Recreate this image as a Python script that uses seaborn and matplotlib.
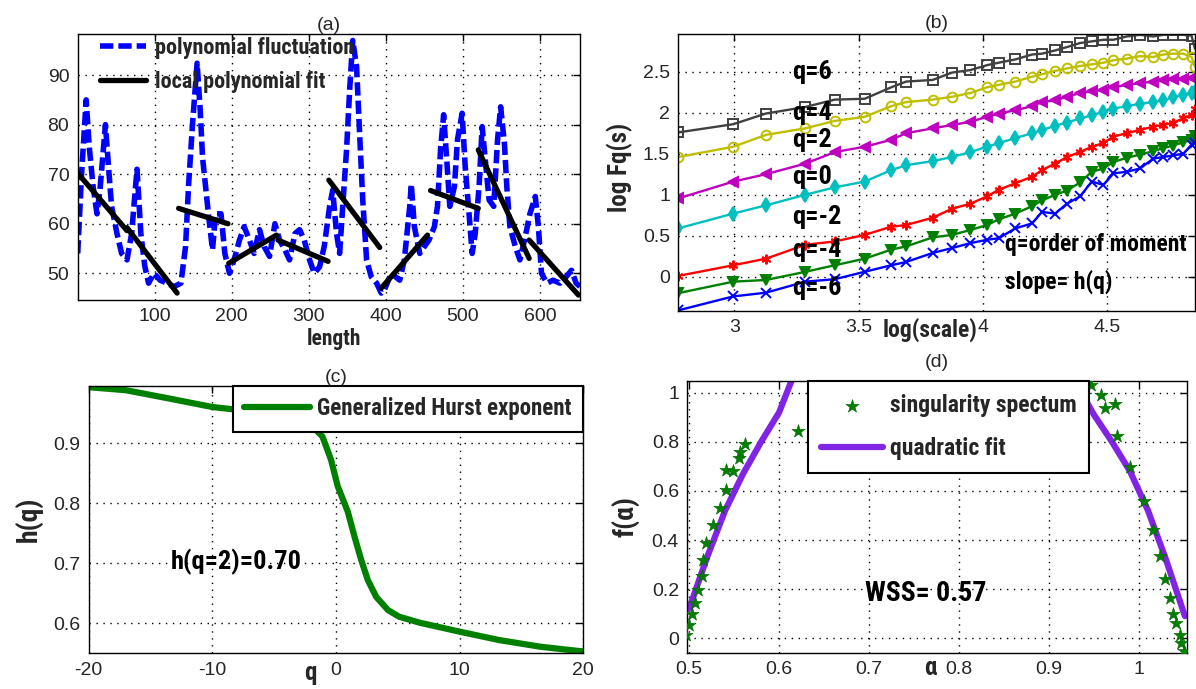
import numpy as np
import pandas as pd
import matplotlib
matplotlib.use("Agg")
import matplotlib.pyplot as plt
import seaborn as sns
from matplotlib import font_manager as fm
from matplotlib.font_manager import FontProperties

# ---------------- data ----------------
# (a) polynomial fluctuation
a_len = [0, 3, 5, 11, 15, 20, 25, 29, 36, 40, 44, 51, 57, 64, 70, 77, 82, 87, 92, 99,
         107, 116, 125, 134, 140, 144, 149, 155, 159, 162, 166, 170, 175, 179, 186, 191,
         197, 203, 210, 216, 223, 229, 236, 242, 249, 256, 262, 269, 275, 282, 288, 294,
         301, 307, 314, 320, 327, 331, 336, 340, 344, 349, 353, 357, 362, 366, 370, 375,
         381, 388, 394, 398, 407, 418, 424, 431, 433, 437, 444, 450, 456, 463, 467, 471,
         475, 479, 483, 489, 493, 499, 503, 508, 512, 516, 521, 525, 529, 534, 540, 545,
         549, 554, 557, 561, 568, 574, 580, 587, 594, 598, 602, 609, 617, 626, 634, 641,
         647, 652]
a_val = [54, 63.5, 70, 85, 75.5, 67.5, 62, 67, 80, 71.5, 63.5, 58, 54, 52.7, 58, 71, 58,
         51.5, 48, 50, 48.6, 48, 47.3, 48, 55.4, 68, 80, 92.4, 83, 73.5, 67.5, 61.5, 54.7,
         62, 62, 54, 50, 52.7, 56.7, 59.4, 56.7, 54, 58.8, 55.4, 53.4, 60, 56.7, 54.7, 52.7,
         58, 58.8, 56.7, 52.7, 50, 51.3, 55.4, 63.5, 66.8, 58, 54, 63.5, 75, 87, 97, 91.7,
         78, 64.8, 52.7, 49.3, 48, 46, 46.6, 50, 48.6, 52.7, 63.5, 68, 59.4, 54, 55.4, 56.7,
         59.4, 63.5, 75, 82, 73, 63.5, 67.5, 77, 82.3, 71.5, 62, 54, 58, 67.5, 79.6, 73,
         64.8, 63.5, 77, 83.6, 76, 67.5, 59.4, 55.4, 52.7, 56.7, 62, 65.5, 59.4, 50, 48,
         48.6, 48, 49.3, 50.6, 48, 47.3]
# (a) local polynomial fit segments
fit_x0 = [0, 64, 131, 196, 260, 326, 394, 458, 520, 586]
fit_y0 = [70.2, 59.2, 63.1, 52.0, 56.7, 68.8, 47.0, 66.7, 74.9, 56.7]
fit_x1 = [64, 129, 195, 258, 325, 392, 454, 520, 586, 650]
fit_y1 = [58.6, 46.0, 60.0, 57.7, 52.4, 55.2, 57.7, 63.1, 53.0, 45.6]

# (b) log Fq(s) vs log(scale)
b_logscale = [2.775, 2.996, 3.127, 3.286, 3.404, 3.524, 3.631, 3.691, 3.798, 3.876,
              3.949, 4.016, 4.063, 4.130, 4.197, 4.237, 4.290, 4.337, 4.390, 4.437,
              4.484, 4.524, 4.578, 4.631, 4.684, 4.725, 4.765, 4.805, 4.838, 4.852]
b_q6 = [1.76, 1.86, 1.99, 2.07, 2.16, 2.17, 2.31, 2.38, 2.40, 2.49, 2.52, 2.58, 2.61,
        2.65, 2.71, 2.72, 2.76, 2.80, 2.85, 2.87, 2.89, 2.89, 2.93, 2.95, 2.93, 2.95,
        2.95, 2.95, 2.94, 2.78]
b_q4 = [1.46, 1.585, 1.73, 1.81, 1.90, 1.95, 2.08, 2.13, 2.16, 2.195, 2.24, 2.31, 2.34,
        2.38, 2.44, 2.47, 2.51, 2.54, 2.57, 2.59, 2.61, 2.64, 2.66, 2.69, 2.68, 2.71,
        2.72, 2.72, 2.68, 2.56]
b_q2 = [0.955, 1.16, 1.25, 1.38, 1.52, 1.585, 1.67, 1.75, 1.81, 1.85, 1.89, 1.95, 1.99,
        2.03, 2.08, 2.13, 2.15, 2.195, 2.24, 2.26, 2.28, 2.31, 2.34, 2.36, 2.38, 2.40,
        2.41, 2.41, 2.42, 2.42]
b_q0 = [0.59, 0.77, 0.87, 1.00, 1.09, 1.16, 1.30, 1.36, 1.41, 1.46, 1.52, 1.585, 1.63,
        1.69, 1.75, 1.79, 1.84, 1.88, 1.93, 1.97, 2.01, 2.05, 2.08, 2.11, 2.13, 2.15,
        2.19, 2.215, 2.24, 2.25]
b_qm2 = [0.01, 0.14, 0.22, 0.39, 0.43, 0.51, 0.61, 0.63, 0.72, 0.83, 0.89, 0.98, 1.06,
         1.14, 1.22, 1.30, 1.38, 1.46, 1.52, 1.585, 1.63, 1.71, 1.75, 1.79, 1.83, 1.85,
         1.88, 1.93, 1.97, 2.05]
b_qm4 = [-0.20, -0.06, -0.04, 0.06, 0.14, 0.22, 0.33, 0.37, 0.48, 0.51, 0.57, 0.63,
         0.70, 0.77, 0.86, 0.93, 1.00, 1.05, 1.15, 1.28, 1.32, 1.40, 1.45, 1.49, 1.53,
         1.57, 1.60, 1.64, 1.67, 1.72]
b_qm6 = [-0.41, -0.24, -0.195, -0.06, -0.03, 0.06, 0.14, 0.18, 0.29, 0.35, 0.41, 0.45,
         0.47, 0.59, 0.65, 0.79, 0.77, 0.89, 0.98, 1.16, 1.12, 1.26, 1.28, 1.32, 1.44,
         1.46, 1.48, 1.50, 1.61, 1.63]
b_labels = ["q=6", "q=4", "q=2", "q=0", "q=-2", "q=-4", "q=-6"]
b_label_y = [2.50, 1.996, 1.67, 1.216, 0.728, 0.326, -0.137]

# (c) generalized Hurst exponent
c_q = [-20, -17, -13.7, -10, -6.9, -5, -3, -2, -1.1, -0.4, 0.14, 0.95, 1.5, 2.03,
       2.57, 3.25, 4.2, 5.1, 6.75, 10, 13.2, 16.5, 20]
c_h = [0.993, 0.988, 0.975, 0.96, 0.953, 0.947, 0.94, 0.93, 0.911, 0.872, 0.828, 0.786,
       0.744, 0.706, 0.672, 0.644, 0.622, 0.611, 0.601, 0.586, 0.572, 0.561, 0.553]

# (d) singularity spectrum and quadratic fit
d_alpha = [0.497, 0.5, 0.503, 0.507, 0.51, 0.514, 0.515, 0.519, 0.527, 0.534, 0.541,
           0.541, 0.549, 0.556, 0.557, 0.562, 0.621, 0.943, 0.947, 0.958, 0.962, 0.973,
           0.976, 0.990, 1.005, 1.016, 1.023, 1.029, 1.034, 1.038, 1.041, 1.045, 1.047,
           1.050]
d_f = [0.014, 0.054, 0.10, 0.143, 0.197, 0.252, 0.32, 0.388, 0.463, 0.53, 0.605, 0.687,
       0.68, 0.735, 0.758, 0.79, 0.844, 1.05, 1.03, 0.99, 0.94, 0.954, 0.824, 0.696,
       0.56, 0.44, 0.333, 0.24, 0.163, 0.10, 0.061, 0.014, -0.02, -0.054]
fitL_alpha = [0.5, 0.52, 0.54, 0.56, 0.58, 0.60, 0.615]
fitL_f = [0.12, 0.33, 0.52, 0.67, 0.80, 0.92, 1.06]
fitR_alpha = [0.936, 0.95, 0.97, 0.99, 1.01, 1.03, 1.051]
fitR_f = [1.0, 0.91, 0.80, 0.68, 0.52, 0.32, 0.09]

# ---------------- style ----------------
sns.set_theme(style="white")
plt.rcParams["font.family"] = ["Liberation Sans", "DejaVu Sans"]
plt.rcParams["axes.edgecolor"] = "black"
plt.rcParams["axes.linewidth"] = 1.0
plt.rcParams["axes.unicode_minus"] = False


def pick_condensed():
    names = {f.name for f in fm.fontManager.ttflist}
    for cand in ["Liberation Sans Narrow", "Arial Narrow", "Roboto Condensed",
                 "Open Sans Condensed", "DejaVu Sans Condensed", "Noto Sans Condensed"]:
        if cand in names:
            return cand, "normal"
    for f in fm.fontManager.ttflist:
        if isinstance(f.stretch, str) and "condensed" in f.stretch and f.name in (
                "DejaVu Sans", "Noto Sans", "Roboto", "Open Sans"):
            return f.name, "condensed"
    return "Liberation Sans", "normal"


COND, STRETCH = pick_condensed()


def bfont(size):
    return FontProperties(family=[COND, "DejaVu Sans"], weight="bold",
                          stretch=STRETCH, size=size)


TICK_FONT = 14
TICK_COLOR = "#262626"

W, H = 1196, 689
fig = plt.figure(figsize=(W / 100, H / 100), dpi=100)


def px_axes(l, r, t, b):
    return fig.add_axes([l / W, 1 - b / H, (r - l) / W, (b - t) / H])


def style_axes(ax):
    ax.tick_params(direction="in", length=5, width=1, top=True, right=True,
                   labelsize=TICK_FONT, labelcolor=TICK_COLOR, pad=6, color="black")
    ax.grid(True, linestyle=(0, (1, 4)), color="black", linewidth=1.0)
    for s in ax.spines.values():
        s.set_color("black")
        s.set_linewidth(1.0)
    for lab in ax.get_xticklabels() + ax.get_yticklabels():
        lab.set_fontfamily(["Liberation Sans", "DejaVu Sans"])


# ---------------- (a) ----------------
axA = px_axes(77.7, 580, 34, 300)
sns.lineplot(x=a_len, y=a_val, ax=axA, color="#0000FF", linewidth=4.0, sort=False,
             estimator=None, label="polynomial fluctuation")
axA.lines[-1].set_dashes([2.4, 0.9])
for i in range(len(fit_x0)):
    sns.lineplot(x=[fit_x0[i], fit_x1[i]], y=[fit_y0[i], fit_y1[i]], ax=axA,
                 color="black", linewidth=3.8, sort=False, estimator=None,
                 label="local polynomial fit" if i == 0 else None)
axA.set_xlim(0, 652)
axA.set_ylim(44.6, 98.3)
axA.set_xticks([100, 200, 300, 400, 500, 600])
axA.set_yticks([50, 60, 70, 80, 90])
style_axes(axA)
axA.set_title("(a)", fontsize=14, pad=3, color=TICK_COLOR)
axA.set_xlabel("length", fontproperties=bfont(15.5))
axA.xaxis.set_label_coords(0.510, -0.105)
h, l = axA.get_legend_handles_labels()
legA = axA.legend(h, l, loc="upper left", bbox_to_anchor=(0.044, 0.99),
                  frameon=False, prop=bfont(16), handlelength=2.1,
                  handletextpad=0.4, labelspacing=0.55, borderpad=0,
                  borderaxespad=0)

# ---------------- (b) ----------------
axB = px_axes(678.3, 1195, 34, 311)
b_series = [b_q6, b_q4, b_q2, b_q0, b_qm2, b_qm4, b_qm6]
b_colors = ["#404040", "#BFBF00", "#BF00BF", "#00BFBF", "#FF0000", "#008000", "#0000FF"]
b_markers = ["s", "o", "<", "d", (6, 2, 0), "v", "x"]
b_open = [True, True, False, False, False, False, False]
for ys, col, mk, op in zip(b_series, b_colors, b_markers, b_open):
    sns.lineplot(x=b_logscale, y=ys, ax=axB, color=col, marker=mk, markersize=7,
                 markeredgecolor=col, markerfacecolor="none" if op else col,
                 markeredgewidth=1.4, linewidth=1.7, sort=False, estimator=None,
                 legend=False)
axB.set_xlim(2.775, 4.852)
axB.set_ylim(-0.418, 2.96)
axB.set_xticks([3, 3.5, 4, 4.5])
axB.set_xticklabels(["3", "3.5", "4", "4.5"])
axB.set_yticks([0, 0.5, 1, 1.5, 2, 2.5])
axB.set_yticklabels(["0", "0.5", "1", "1.5", "2", "2.5"])
style_axes(axB)
axB.set_title("(b)", fontsize=14, pad=4, color=TICK_COLOR)
for lab, yv in zip(b_labels, b_label_y):
    axB.text(3.232, yv, lab, fontproperties=bfont(19), ha="left", va="center",
             color="black")
axB.text(4.087, 0.387, "q=order of moment", fontproperties=bfont(17), ha="left",
         va="center", color="black")
axB.text(4.09, -0.064, "slope= h(q)", fontproperties=bfont(17), ha="left",
         va="center", color="black")
axB.set_xlabel("log(scale)", fontproperties=bfont(17))
axB.xaxis.set_label_coords(0.487, -0.022)
axB.set_ylabel("log Fq(s)", fontproperties=bfont(18))
axB.yaxis.set_label_coords(-0.088, 0.52)

# ---------------- (c) ----------------
axC = px_axes(88.7, 583.3, 386, 653.3)
sns.lineplot(x=c_q, y=c_h, ax=axC, color="#008000", linewidth=4.5, sort=False,
             estimator=None, label="Generalized Hurst exponent")
axC.set_xlim(-20, 20)
axC.set_ylim(0.55, 0.995)
axC.set_xticks([-20, -10, 0, 10, 20])
axC.set_yticks([0.6, 0.7, 0.8, 0.9])
style_axes(axC)
axC.set_title("(c)", fontsize=14, pad=3, color=TICK_COLOR)
axC.text(-13.4, 0.703, "h(q=2)=0.70", fontproperties=bfont(19), ha="left",
         va="center", color="black")
axC.set_xlabel("q", fontproperties=bfont(18))
axC.xaxis.set_label_coords(0.449, -0.028)
axC.set_ylabel("h(q)", fontproperties=bfont(20))
axC.yaxis.set_label_coords(-0.092, 0.5)
legC = axC.legend(loc="upper right", bbox_to_anchor=(1.0, 1.0), prop=bfont(16.5),
                  frameon=True, fancybox=False, framealpha=1, edgecolor="black",
                  handlelength=2.9, handletextpad=0.3, borderpad=0.5,
                  borderaxespad=0)
legC.get_frame().set_linewidth(1.5)

# ---------------- (d) ----------------
axD = px_axes(687.3, 1186.7, 381, 652.7)
sns.scatterplot(x=d_alpha, y=d_f, ax=axD, marker="*", s=100, color="#008000",
                edgecolor="#006400", linewidth=0.4, label="singularity spectum",
                zorder=3)
sns.lineplot(x=fitL_alpha, y=fitL_f, ax=axD, color="#8224E3", linewidth=4.5,
             sort=False, estimator=None, label="quadratic fit")
sns.lineplot(x=fitR_alpha, y=fitR_f, ax=axD, color="#8224E3", linewidth=4.5,
             sort=False, estimator=None)
axD.set_xlim(0.498, 1.053)
axD.set_ylim(-0.059, 1.048)
axD.set_xticks([0.5, 0.6, 0.7, 0.8, 0.9, 1.0])
axD.set_xticklabels(["0.5", "0.6", "0.7", "0.8", "0.9", "1"])
axD.set_yticks([0, 0.2, 0.4, 0.6, 0.8, 1.0])
axD.set_yticklabels(["0", "0.2", "0.4", "0.6", "0.8", "1"])
style_axes(axD)
axD.set_title("(d)", fontsize=14, pad=10, color=TICK_COLOR)
axD.text(0.763, 0.184, "WSS= 0.57", fontproperties=bfont(20), ha="center",
         va="center", color="black")
axD.set_xlabel("α", fontproperties=bfont(18))
axD.xaxis.set_label_coords(0.486, -0.012)
axD.set_ylabel("f(α)", fontproperties=bfont(20))
axD.yaxis.set_label_coords(-0.095, 0.5)
h, l = axD.get_legend_handles_labels()
legD = axD.legend(h[:2], l[:2], loc="upper left", bbox_to_anchor=(0.242, 1.0),
                  prop=bfont(17), frameon=True, fancybox=False, framealpha=1,
                  edgecolor="black", handlelength=2.6, handletextpad=0.3,
                  labelspacing=0.85, borderpad=0.55, borderaxespad=0,
                  scatterpoints=1)
legD.get_frame().set_linewidth(1.5)

fig.savefig("out.png", dpi=100, facecolor="white")
